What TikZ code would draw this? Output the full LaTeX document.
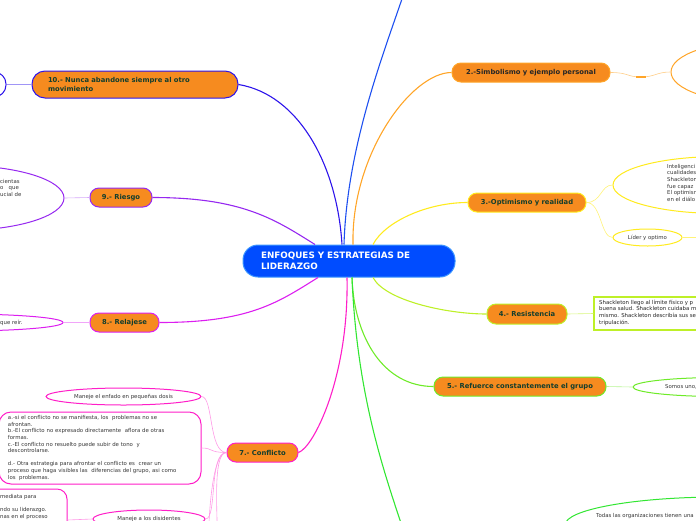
\documentclass[tikz,border=0pt]{standalone}
\usepackage{fontspec}
\setmainfont{DejaVu Sans}
\usepackage{tikz}
\usetikzlibrary{positioning, calc, shapes.geometric}
\definecolor{hub}{RGB}{0,76,255}
\definecolor{hubline}{RGB}{60,150,255}
\definecolor{tangerine}{RGB}{246,139,31}
\definecolor{leafink}{RGB}{20,62,45}
\definecolor{noteink}{RGB}{55,55,55}
\definecolor{cone}{RGB}{30,80,240}
\definecolor{cten}{RGB}{45,20,235}
\definecolor{cnine}{RGB}{150,40,240}
\definecolor{ceight}{RGB}{220,30,240}
\definecolor{cseven}{RGB}{255,30,200}
\definecolor{ctwo}{RGB}{255,165,40}
\definecolor{cthree}{RGB}{255,235,30}
\definecolor{cfour}{RGB}{190,240,40}
\definecolor{cfive}{RGB}{110,235,40}
\definecolor{csix}{RGB}{50,230,50}
\tikzset{
  hubbox/.style={fill=hub,draw=hubline,line width=1pt,rounded corners=15pt,
    minimum width=212pt,minimum height=32pt,text width=176pt,align=left,
    font=\fontsize{8.8}{11}\selectfont\bfseries,text=white},
  topic/.style={draw,fill=tangerine,line width=1pt,rounded corners=9pt,
    minimum height=19pt,inner sep=2pt,align=center,
    font=\fontsize{6.8}{9}\selectfont\bfseries,text=leafink},
  bubble/.style={ellipse,draw,line width=1pt,fill=white,inner sep=0pt,
    font=\fontsize{5.4}{6.6}\selectfont,text=noteink},
  card/.style={draw,line width=1pt,rounded corners=12pt,fill=white,
    font=\fontsize{5.4}{6.6}\selectfont,text=noteink,align=left},
  note/.style={font=\fontsize{5.4}{6.6}\selectfont,text=noteink,align=left,
    inner sep=0pt},
  link/.style={line width=1.1pt},
  twig/.style={line width=0.6pt},
}

\begin{document}
\begin{tikzpicture}[x=1pt,y=-1pt]
  \useasboundingbox (0,0) rectangle (696,520);
  \clip (0,0) rectangle (696,520);

  \node[hubbox] (hub) at (349,261) {ENFOQUES Y ESTRATEGIAS DE\\LIDERAZGO};

  % main topics
  \node[topic,draw=cten,minimum width=206pt,minimum height=27pt,
    rounded corners=13pt,text width=174pt,align=left] (ten) at (135,84.5)
    {10.- Nunca abandone siempre al otro\\movimiento};
  \node[topic,draw=cnine,minimum width=62pt] (nine) at (121,197.5) {9.- Riesgo};
  \node[topic,draw=ceight,minimum width=69pt] (eight) at (124.5,322.5) {8.- Relajese};
  \node[topic,draw=cseven,minimum width=71pt] (seven) at (262.5,452.5) {7.- Conflicto};
  \node[topic,draw=ctwo,text=black!85,minimum width=158pt] (two) at (531,72.5)
    {2.-Simbolismo y ejemplo personal};
  \node[topic,draw=cthree,minimum width=118pt] (three) at (527,202.5)
    {3.-Optimismo y realidad};
  \node[topic,draw=cfour,minimum width=80pt,minimum height=20pt] (four) at (527,314)
    {4.- Resistencia};
  \node[topic,draw=cfive,minimum width=172pt] (five) at (520,386.5)
    {5.- Refuerce constantemente el grupo};
  \coordinate (one) at (405,-10);
  \coordinate (six) at (405,535);

  % leaves
  \node[card,draw=cten,minimum width=112pt,minimum height=25pt] (s10) at (-50,84.5) {};
  \node[bubble,draw=cnine,minimum width=208pt,minimum height=65pt] (s9) at (-40,198) {};
  \node[note,anchor=north west] (s9txt) at (0,179) {cientas\\o \ \ que\\ucial de};
  \node[bubble,draw=ceight,minimum width=206pt,minimum height=17pt] (s8) at (-40,322.5) {};
  \node[note,anchor=west] (s8txt) at (0,323) {que reír.};

  \node[bubble,draw=cseven,minimum width=155pt,minimum height=17pt] (s7a) at (123.5,396.5)
    {Maneje el enfado en pequeñas dosis};
  \node[card,draw=cseven,minimum width=202pt,minimum height=72pt,text width=184pt,
    inner xsep=0pt] (s7b) at (100,448)
    {a.-si el conflicto no se manifiesta, los\ \ problemas no se\\afrontan.\\
     b.-El conflicto no expresado directamente\ \ aflora de otras\\formas.\\
     c.-El conflicto no resuelto puede subir de tono\ \ y\\descontrolarse.\\[6.6pt]
     d.- Otra estrategia para afrontar el conflicto es\ \ crear un\\
     proceso que haga visibles las\ \ diferencias del grupo, asi como\\
     los\ \ problemas.};
  \node[card,draw=cseven,minimum width=174pt,minimum height=62pt,rounded corners=10pt]
    (s7c) at (-20,520) {};
  \node[note,anchor=north west] (s7ctxt) at (0,494)
    {mediata para\\[6.6pt]ndo su liderazgo.\\nas en el proceso};
  \node[bubble,draw=cseven,minimum width=112pt,minimum height=18pt] (s7d) at (149,519)
    {Maneje a los disidentes};
  \coordinate (s7e) at (208,560);
  \coordinate (s7f) at (218,560);

  \node[bubble,draw=ctwo,minimum width=178pt,minimum height=62pt] (s2) at (760,72) {};
  \node[bubble,draw=cthree,minimum width=214pt,minimum height=57pt] (s3a) at (720,185) {};
  \node[note,anchor=north west] (s3atxt) at (667,164)
    {Inteligenci\\cualidades\\Shackleton\\fue capaz\\El optimism\\en el diálo};
  \node[bubble,draw=cthree,minimum width=69pt,minimum height=17pt] (s3b) at (647.5,237.5)
    {Líder y optimo};
  \coordinate (s3c) at (710,237.5);
  \node[draw=cfour,line width=1.3pt,fill=white,minimum width=126pt,minimum height=33pt]
    (s4) at (657,313.5) {};
  \node[note,anchor=north west,text=black!85,font=\fontsize{5.4}{6.8}\selectfont]
    (s4txt) at (599,299.5)
    {Shackleton llego al límite físico y p\\buena salud. Shackleton cuidaba m\\
     mismo. Shackleton describía sus se\\tripulación.};
  \node[bubble,draw=cfive,minimum width=174pt,minimum height=19pt] (s5) at (720,387) {};
  \node[note,anchor=west] (s5txt) at (665,387) {Somos uno,};
  \node[bubble,draw=csix,minimum width=310pt,minimum height=56pt] (s6) at (720,525) {};
  \node[note,anchor=west] (s6txt) at (596,516) {Todas las organizaciones tienen una};

  % links from the hub
  \draw[link,cten] (ten.east) .. controls +(60,10) and +(-5,-80) .. ([xshift=-7pt]hub.north);
  \draw[link,cone] ([xshift=-5pt]hub.north) .. controls +(3,-100) and +(-20,60) .. (one);
  \draw[link,cnine] (nine.east) .. controls +(90,0) and +(-40,-25) .. ([xshift=-34pt]hub.north);
  \draw[link,ceight] (eight.east) .. controls +(90,0) and +(-40,25) .. ([xshift=-31pt]hub.south);
  \draw[link,cseven] (seven.east) .. controls +(15,-5) and +(2,100) .. ([xshift=-2pt]hub.south);
  \draw[link,ctwo] (two.west) .. controls +(-40,0) and +(-2,-90) .. ([xshift=4pt]hub.north);
  \draw[link,cthree] (three.west) .. controls +(-40,0) and +(12,-23) .. ([xshift=24pt]hub.north);
  \draw[link,cfour] (four.west) .. controls +(-40,0) and +(12,23) .. ([xshift=24pt]hub.south);
  \draw[link,cfive] (five.west) .. controls +(-50,0) and +(2,60) .. ([xshift=3pt]hub.south);
  \draw[link,csix] ([xshift=3pt]hub.south) .. controls +(5,120) and +(-20,-60) .. (six);

  % links to the leaves
  \draw[twig,cten!45] (ten.west) -- (s10.east);
  \draw[twig,cnine!40] (nine.west) -- (s9.east);
  \draw[twig,ceight!40] (eight.west) -- (s8.east);
  \foreach \leaf in {s7a,s7b,s7d}
    \draw[twig,cseven!45] (seven.west) .. controls +(-18,0) and +(12,0) .. (\leaf.east);
  \foreach \leaf in {s7e,s7f}
    \draw[twig,cseven!45] (seven.west) .. controls +(-15,0) and +(0,-40) .. (\leaf);
  \draw[twig,cseven!45] (s7d.west) .. controls +(-12,0) and +(12,0) .. (s7c.east);
  \coordinate (knot) at (641,77);
  \draw[twig,ctwo!55] (two.east) .. controls +(18,0) and +(-14,0) .. (knot)
    .. controls +(14,0) and +(-14,0) .. (s2.west);
  \draw[ctwo,line width=1.6pt] ([xshift=-5pt]knot) -- ([xshift=5pt]knot);
  \draw[twig,cthree!60] (three.east) .. controls +(15,0) and +(-12,0) .. (s3a.west);
  \draw[twig,cthree!60] (three.east) .. controls +(15,0) and +(-12,0) .. (s3b.west);
  \draw[twig,cthree!60] (s3b.east) -- (s3c);
  \draw[twig,cfour!60] (four.east) -- (s4.west);
  \draw[twig,cfive!50] (five.east) -- (s5.west);
\end{tikzpicture}
\end{document}
